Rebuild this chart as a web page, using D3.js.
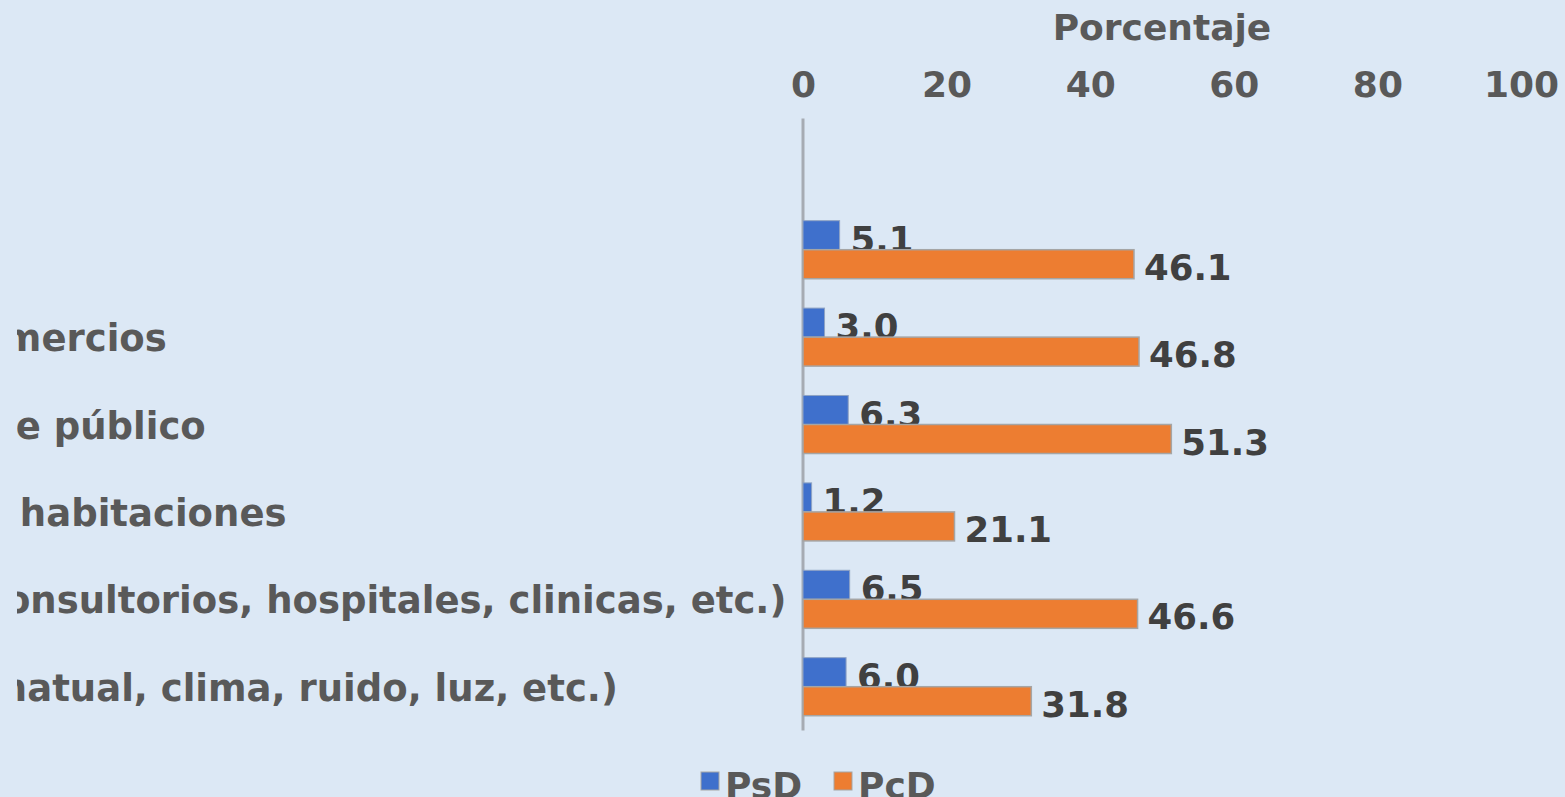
<!DOCTYPE html>
<html>
<head>
<meta charset="utf-8">
<script src="https://cdn.jsdelivr.net/npm/d3@7"></script>
<style>
  html, body { margin: 0; padding: 0; background: #dce8f5; }
  svg { display: block; }
  text { font-family: "DejaVu Sans", Verdana, sans-serif; font-weight: bold; }
</style>
</head>
<body>
<svg id="chart" width="1565" height="797"></svg>
<script>
// Categories (top to bottom) and the two series, in percent
const categories = [
  "Calles y banquetas",
  "Bancos, tiendas y comercios",
  "Servicio de transporte público",
  "Hoteles y alquiler de habitaciones",
  "Servicios de salud (consultorios, hospitales, clinicas, etc.)",
  "Entornos (ambiente natual, clima, ruido, luz, etc.)"
];
const seriesNames = ["PsD", "PcD"];
const psd = [5.1, 3.0, 6.3, 1.2, 6.5, 6.0];
const pcd = [46.1, 46.8, 51.3, 21.1, 46.6, 31.8];
const tickValues = [0, 20, 40, 60, 80, 100];
const axisTitle = "Porcentaje";

const colors = { PsD: "#3f70cc", PcD: "#ed7d31" };

const W = 1565, H = 797;
const svg = d3.select("#chart");

svg.append("rect").attr("width", W).attr("height", H).attr("fill", "#dce8f5");

const x = d3.scaleLinear().domain([0, 100]).range([803, 1521]);
const y = d3.scaleBand()
  .domain(categories)
  .range([206, 730.4])
  .paddingInner(0.336)
  .paddingOuter(0.168);
const ySub = d3.scaleBand().domain(seriesNames).range([0, y.bandwidth()]);

const rows = categories.map((c, i) => ({ cat: c, PsD: psd[i], PcD: pcd[i] }));
const fmt = d3.format(".1f");

// Value axis on top
const xAxis = svg.append("g")
  .attr("transform", "translate(0,97)")
  .call(d3.axisTop(x).tickValues(tickValues).tickSize(0).tickPadding(0));
xAxis.select(".domain").remove();
xAxis.attr("font-family", null).attr("font-size", null);
xAxis.selectAll("text")
  .attr("font-size", 36)
  .attr("fill", "#595959");

svg.append("text")
  .attr("x", (x.range()[0] + x.range()[1]) / 2)
  .attr("y", 40)
  .attr("text-anchor", "middle")
  .attr("font-size", 36)
  .attr("fill", "#595959")
  .text(axisTitle);

// Category axis line
svg.append("line")
  .attr("x1", x(0)).attr("x2", x(0))
  .attr("y1", y.range()[0] - y.step())
  .attr("y2", y.range()[1])
  .attr("stroke", "#a6abb3")
  .attr("stroke-width", 3);

// Category labels, clipped at the left edge of the drawing area
svg.append("clipPath").attr("id", "labelClip")
  .append("rect").attr("x", 17).attr("y", 0).attr("width", 780).attr("height", H);
svg.append("g")
  .attr("clip-path", "url(#labelClip)")
  .selectAll("text")
  .data(rows)
  .join("text")
  .attr("x", -425.5)
  .attr("y", d => y(d.cat) + y.bandwidth() / 2)
  .attr("dy", "0.38em")
  .attr("font-size", 37)
  .attr("fill", "#595959")
  .text(d => d.cat);

// PsD bars and labels
svg.append("g").selectAll("rect")
  .data(rows)
  .join("rect")
  .attr("x", x(0))
  .attr("y", d => y(d.cat) + ySub("PsD"))
  .attr("width", d => x(d.PsD) - x(0))
  .attr("height", ySub.bandwidth())
  .attr("fill", colors.PsD)
  .attr("stroke", "#8fa3c4")
  .attr("stroke-width", 1);

svg.append("g").selectAll("text")
  .data(rows)
  .join("text")
  .attr("x", d => x(d.PsD) + 11)
  .attr("y", d => y(d.cat) + ySub("PsD") + ySub.bandwidth() + 2)
  .attr("font-size", 35.5)
  .attr("fill", "#404040")
  .text(d => fmt(d.PsD));

// PcD bars and labels
svg.append("g").selectAll("rect")
  .data(rows)
  .join("rect")
  .attr("x", x(0))
  .attr("y", d => y(d.cat) + ySub("PcD"))
  .attr("width", d => x(d.PcD) - x(0))
  .attr("height", ySub.bandwidth())
  .attr("fill", colors.PcD)
  .attr("stroke", "#a5a5a5")
  .attr("stroke-width", 1.5);

svg.append("g").selectAll("text")
  .data(rows)
  .join("text")
  .attr("x", d => x(d.PcD) + 10)
  .attr("y", d => y(d.cat) + ySub("PcD") + ySub.bandwidth() + 1)
  .attr("font-size", 35.5)
  .attr("fill", "#404040")
  .text(d => fmt(d.PcD));

// Legend
const legendX = [701, 834];
const legend = svg.append("g").selectAll("g")
  .data(seriesNames)
  .join("g")
  .attr("transform", (d, i) => `translate(${legendX[i]},772)`);
legend.append("rect")
  .attr("width", 18).attr("height", 18)
  .attr("fill", d => colors[d])
  .attr("stroke", "#a5a5a5").attr("stroke-width", 1);
legend.append("text")
  .attr("x", 24)
  .attr("y", 26)
  .attr("font-size", 36)
  .attr("fill", "#595959")
  .text(d => d);
</script>
</body>
</html>
